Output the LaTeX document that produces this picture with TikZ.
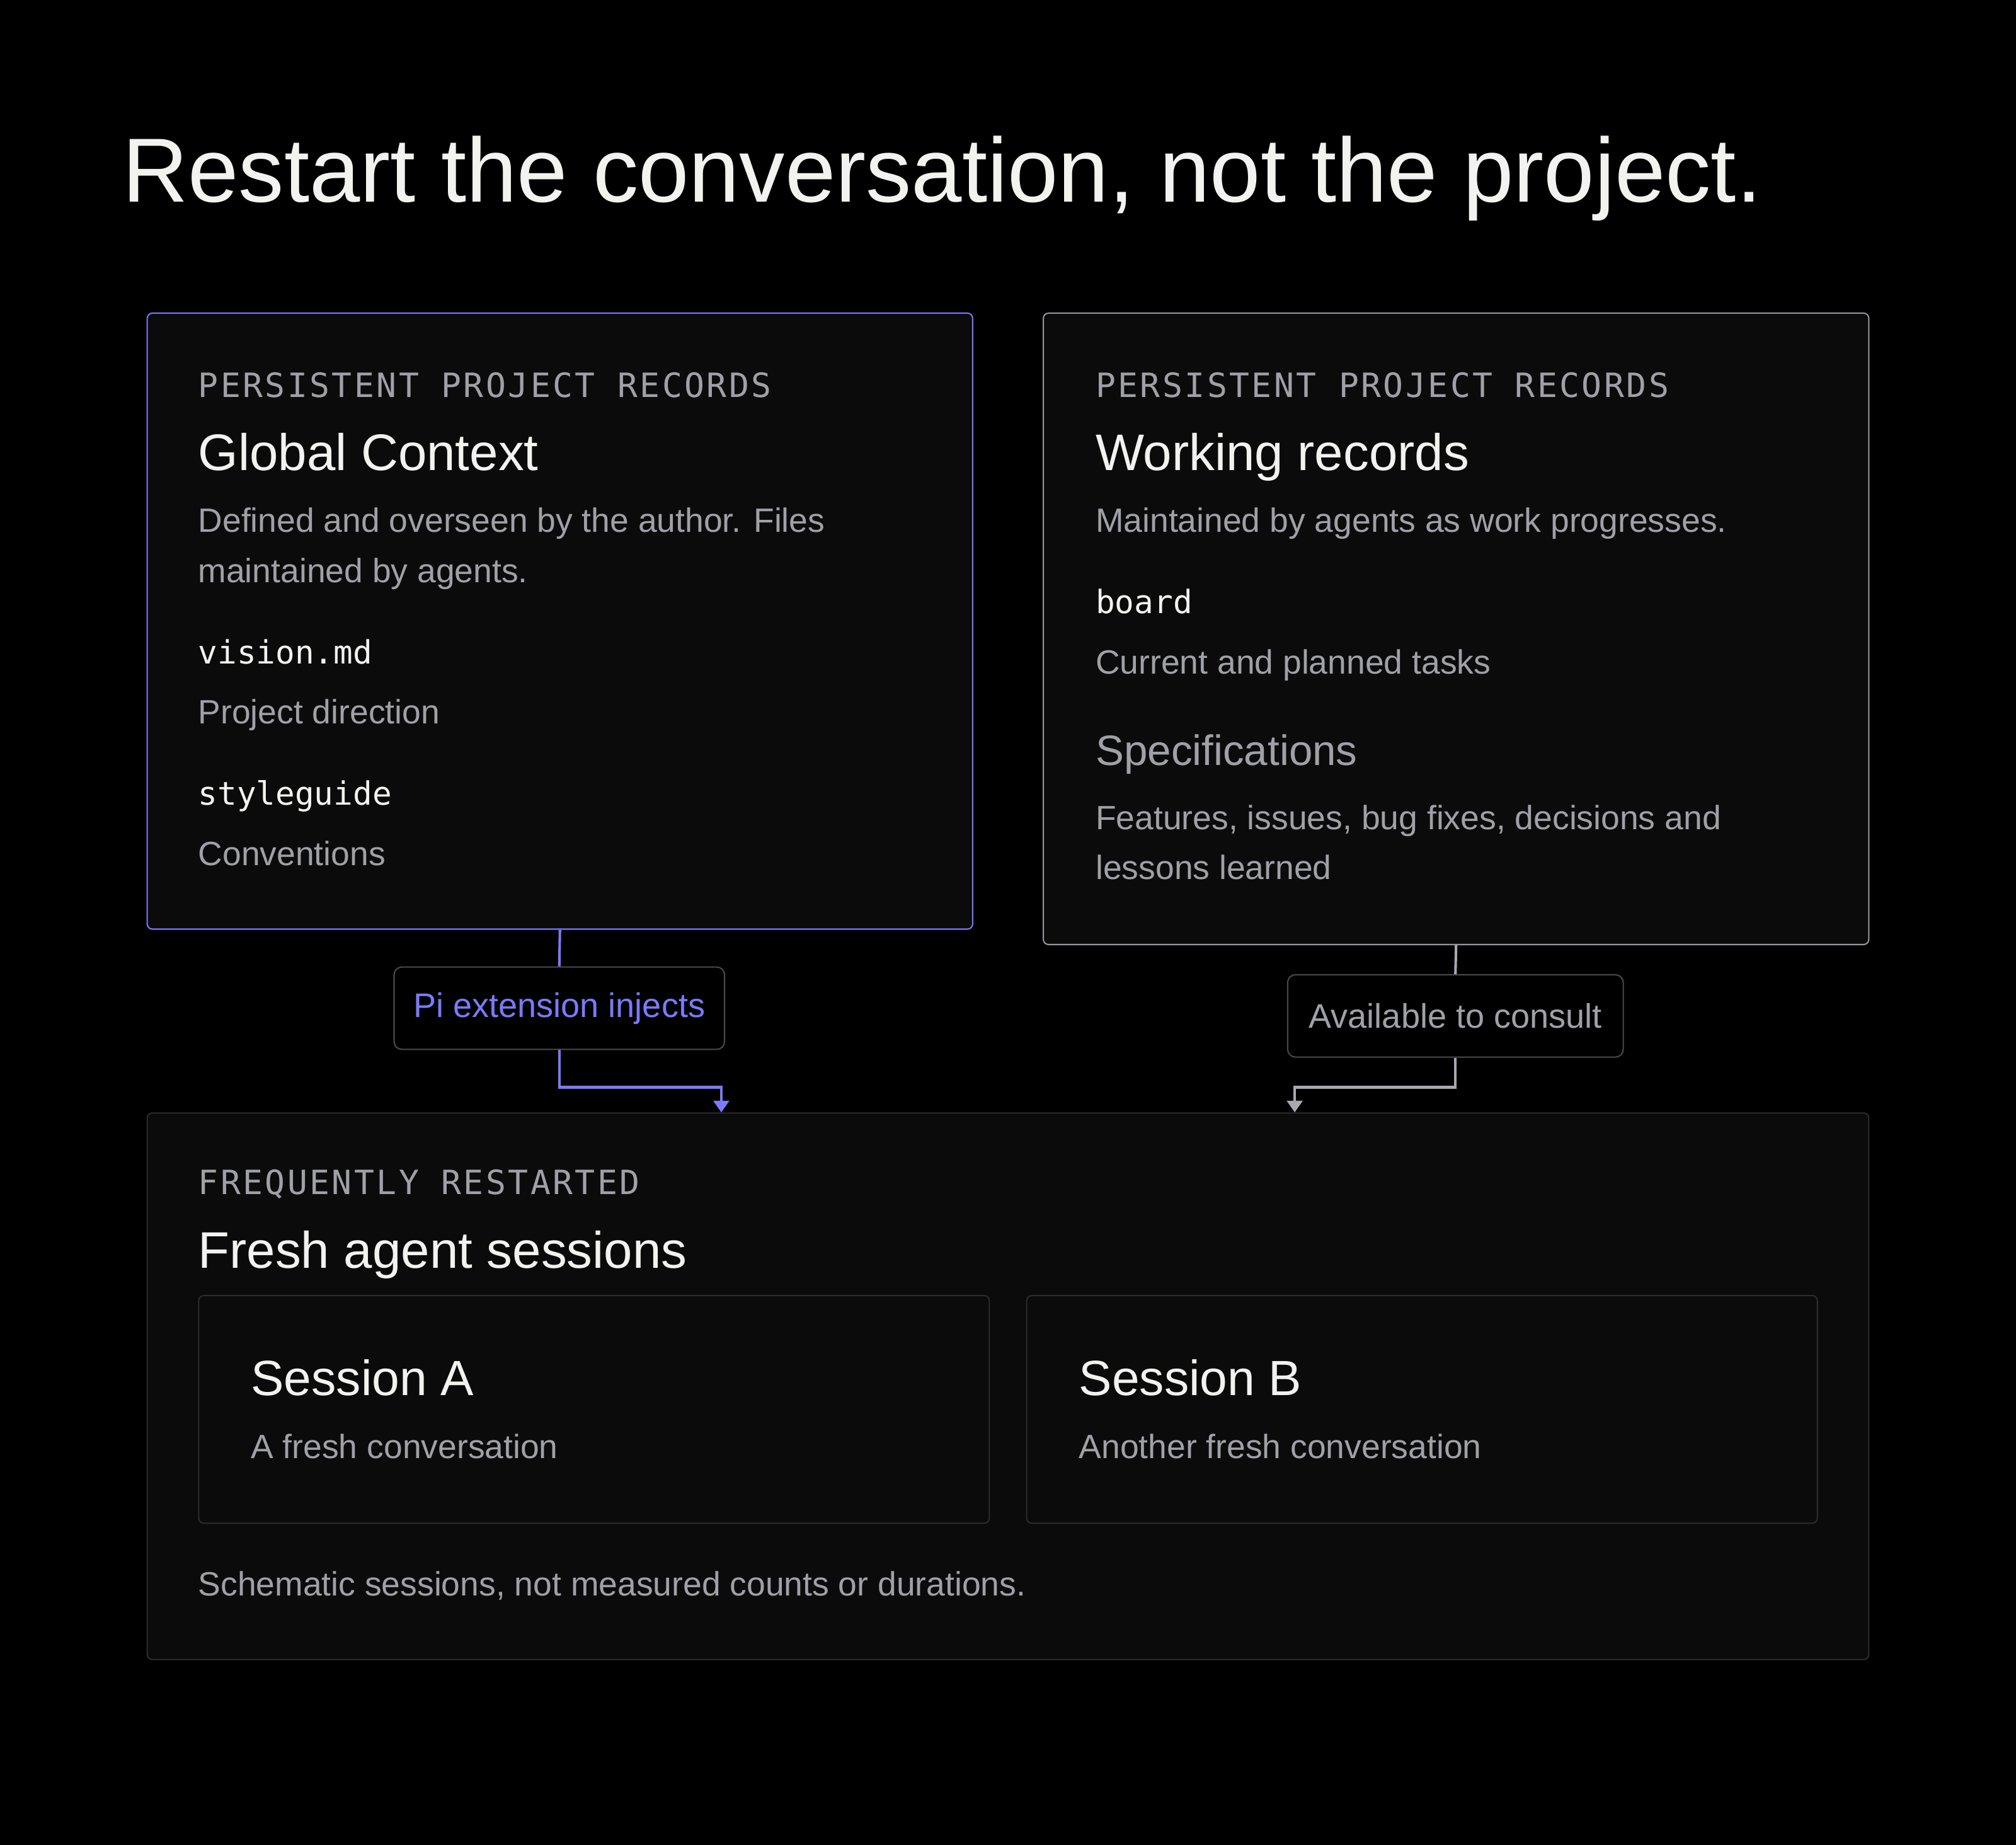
\documentclass[tikz,border=0pt]{standalone}
\usepackage{fontspec}
\setmainfont{Liberation Sans}
\newfontfamily\codefont{DejaVu Sans Mono}
\newfontfamily\eyebrowfont{DejaVu Sans Mono}[LetterSpace=6.5]
\usetikzlibrary{arrows.meta,positioning}
\definecolor{ink}{RGB}{242,242,238}
\definecolor{muted}{RGB}{160,160,168}
\definecolor{accent}{RGB}{122,122,250}
\definecolor{cardbg}{RGB}{11,11,11}
\definecolor{cardline}{RGB}{44,44,44}
\definecolor{softline}{RGB}{150,150,158}
\definecolor{tagline}{RGB}{74,74,74}
\definecolor{wire}{RGB}{168,168,176}

\begin{document}
\begin{tikzpicture}[x=1pt,y=-1pt,
    panel/.style={draw=cardline, rounded corners=4pt, fill=cardbg, line width=1pt, inner sep=0pt, anchor=north west},
    tag/.style={draw=tagline, rounded corners=6pt, fill=black, line width=1pt, inner sep=0pt,
      minimum height=64pt, font=\fontsize{26.5}{30}\selectfont},
    txt/.style={anchor=base west, inner sep=0pt},
    eyebrow/.style={txt, text=muted, font=\eyebrowfont\fontsize{26}{30}\selectfont},
    heading/.style={txt, text=ink, font=\fontsize{40}{46}\selectfont},
    body/.style={txt, text=muted, font=\fontsize{26.2}{30}\selectfont},
    code/.style={txt, text=ink, font=\codefont\fontsize{25}{30}\selectfont},
    wireA/.style={draw=accent, line width=2pt, -{Triangle[width=12pt,length=9pt]}},
    wireB/.style={draw=wire, line width=2pt, -{Triangle[width=12pt,length=9pt]}}]
  \fill[black] (0,0) rectangle (1568,1434.7);
  \useasboundingbox (0,0) rectangle (1568,1434.7);

  \node[txt, text=ink, font=\fontsize{70.8}{80}\selectfont] (title) at (95,157) {Restart the conversation, not the project.};

  % persistent records
  \node[panel, draw=accent, minimum width=642pt, minimum height=479pt] (glob) at (114,243) {};
  \node[panel, draw=softline, minimum width=642pt, minimum height=491pt] (work) at (811,243) {};

  \node[eyebrow] (globeyebrow) at (154,309) {PERSISTENT PROJECT RECORDS};
  \node[heading] (globhead) at (154,366) {Global Context};
  \node[body] (globdesc1) at (154,414) {Defined and overseen by the author. Files};
  \node[body] (globdesc2) at (154,453) {maintained by agents.};
  \node[code] (vision) at (154,516) {vision.md};
  \node[body] (visiondesc) at (154,563) {Project direction};
  \node[code] (style) at (154,626) {styleguide};
  \node[body] (styledesc) at (154,673) {Conventions};

  \node[eyebrow] (workeyebrow) at (852,309) {PERSISTENT PROJECT RECORDS};
  \node[heading] (workhead) at (852,366) {Working records};
  \node[body] (workdesc) at (852,414) {Maintained by agents as work progresses.};
  \node[code] (board) at (852,477) {board};
  \node[body] (boarddesc) at (852,524) {Current and planned tasks};
  \node[txt, text=muted, font=\fontsize{33}{38}\selectfont] (specs) at (852,595) {Specifications};
  \node[body] (specsdesc1) at (852,645) {Features, issues, bug fixes, decisions and};
  \node[body] (specsdesc2) at (852,684) {lessons learned};

  % sessions
  \node[panel, minimum width=1339pt, minimum height=425pt] (fresh) at (114,865) {};
  \node[panel, minimum width=615pt, minimum height=177pt] (sessA) at (154,1007) {};
  \node[panel, minimum width=615pt, minimum height=177pt] (sessB) at (798,1007) {};

  \node[eyebrow] (fresheyebrow) at (154,929) {FREQUENTLY RESTARTED};
  \node[heading] (freshhead) at (154,986) {Fresh agent sessions};
  \node[txt, text=ink, font=\fontsize{38.5}{44}\selectfont] (sessAhead) at (195,1085) {Session A};
  \node[body] (sessAdesc) at (195,1134) {A fresh conversation};
  \node[txt, text=ink, font=\fontsize{38.5}{44}\selectfont] (sessBhead) at (839,1085) {Session B};
  \node[body] (sessBdesc) at (839,1134) {Another fresh conversation};
  \node[body] (note) at (154,1241) {Schematic sessions, not measured counts or durations.};

  % connectors
  \node[tag, text=accent, minimum width=257pt] (inject) at (435,784) {Pi extension injects};
  \node[tag, text=muted, minimum width=261pt] (consult) at (1132,790) {Available to consult};
  \coordinate (inA) at (561,865);
  \coordinate (inB) at (1007,865);

  \draw[draw=accent, line width=2pt] (glob.south) -- (inject.north);
  \draw[wireA] (inject.south) -- ++(0,29) -| (inA);
  \draw[draw=wire, line width=2pt] (work.south) -- (consult.north);
  \draw[wireB] (consult.south) -- ++(0,23) -| (inB);
\end{tikzpicture}
\end{document}
